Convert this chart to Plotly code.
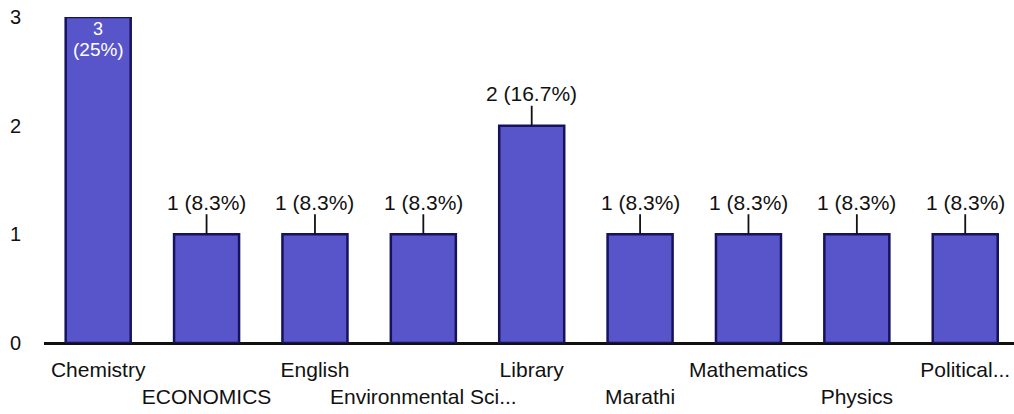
import plotly.graph_objects as go

categories = ["Chemistry", "ECONOMICS", "English", "Environmental Sci...", "Library",
              "Marathi", "Mathematics", "Physics", "Political..."]
counts = [3, 1, 1, 1, 2, 1, 1, 1, 1]
percents = ["25%", "8.3%", "8.3%", "8.3%", "16.7%", "8.3%", "8.3%", "8.3%", "8.3%"]
y_ticks = [0, 1, 2, 3]

FONT = "Liberation Sans, Arial, sans-serif"
BAR_FILL = "#5854ca"
BAR_LINE = "#15135c"

ticktext = [c if i % 2 == 0 else "<br>" + c for i, c in enumerate(categories)]

fig = go.Figure()
fig.add_trace(go.Bar(
    x=categories, y=counts,
    marker=dict(color=BAR_FILL, line=dict(color=BAR_LINE, width=2.5)),
    width=0.6,
))

for i, (c, v, p) in enumerate(zip(categories, counts, percents)):
    if v == max(counts):
        fig.add_annotation(x=c, y=v, text=f"{v}", showarrow=False,
                           yanchor="middle", yshift=-12,
                           font=dict(family=FONT, size=18, color="white"))
        fig.add_annotation(x=c, y=v, text=f"({p})", showarrow=False,
                           yanchor="middle", yshift=-32,
                           font=dict(family=FONT, size=19, color="white"))
    else:
        fig.add_annotation(x=c, y=v, text=f"{v} ({p})", showarrow=True,
                           arrowhead=0, arrowwidth=1.8, arrowcolor="#111",
                           ax=0, ay=-32, standoff=0, borderpad=0,
                           font=dict(family=FONT, size=21, color="#111"))

fig.update_layout(
    width=1014, height=414,
    margin=dict(l=44, r=0, t=17, b=71),
    paper_bgcolor="white", plot_bgcolor="white",
    showlegend=False,
    font=dict(family=FONT, size=21, color="#111"),
    xaxis=dict(tickmode="array", tickvals=categories, ticktext=ticktext,
               showgrid=False, showline=False, ticks="",
               tickangle=0, automargin=False,
               ticklabelstandoff=12, ticklabeloverflow="allow",
               tickfont=dict(family=FONT, size=21, color="#111"),
               range=[-0.5, 8.45]),
    yaxis=dict(range=[0, 3], tickvals=y_ticks, showgrid=False,
               zeroline=True, zerolinecolor="#111", zerolinewidth=2.5,
               showline=False, ticks="", ticklabelstandoff=22,
               automargin=False, ticklabeloverflow="allow",
               tickfont=dict(family=FONT, size=20, color="#111")),
)

fig.write_html("out.html",
               config={"displayModeBar": False},
               post_script="document.body.style.margin='0';document.body.style.overflow='hidden';")
